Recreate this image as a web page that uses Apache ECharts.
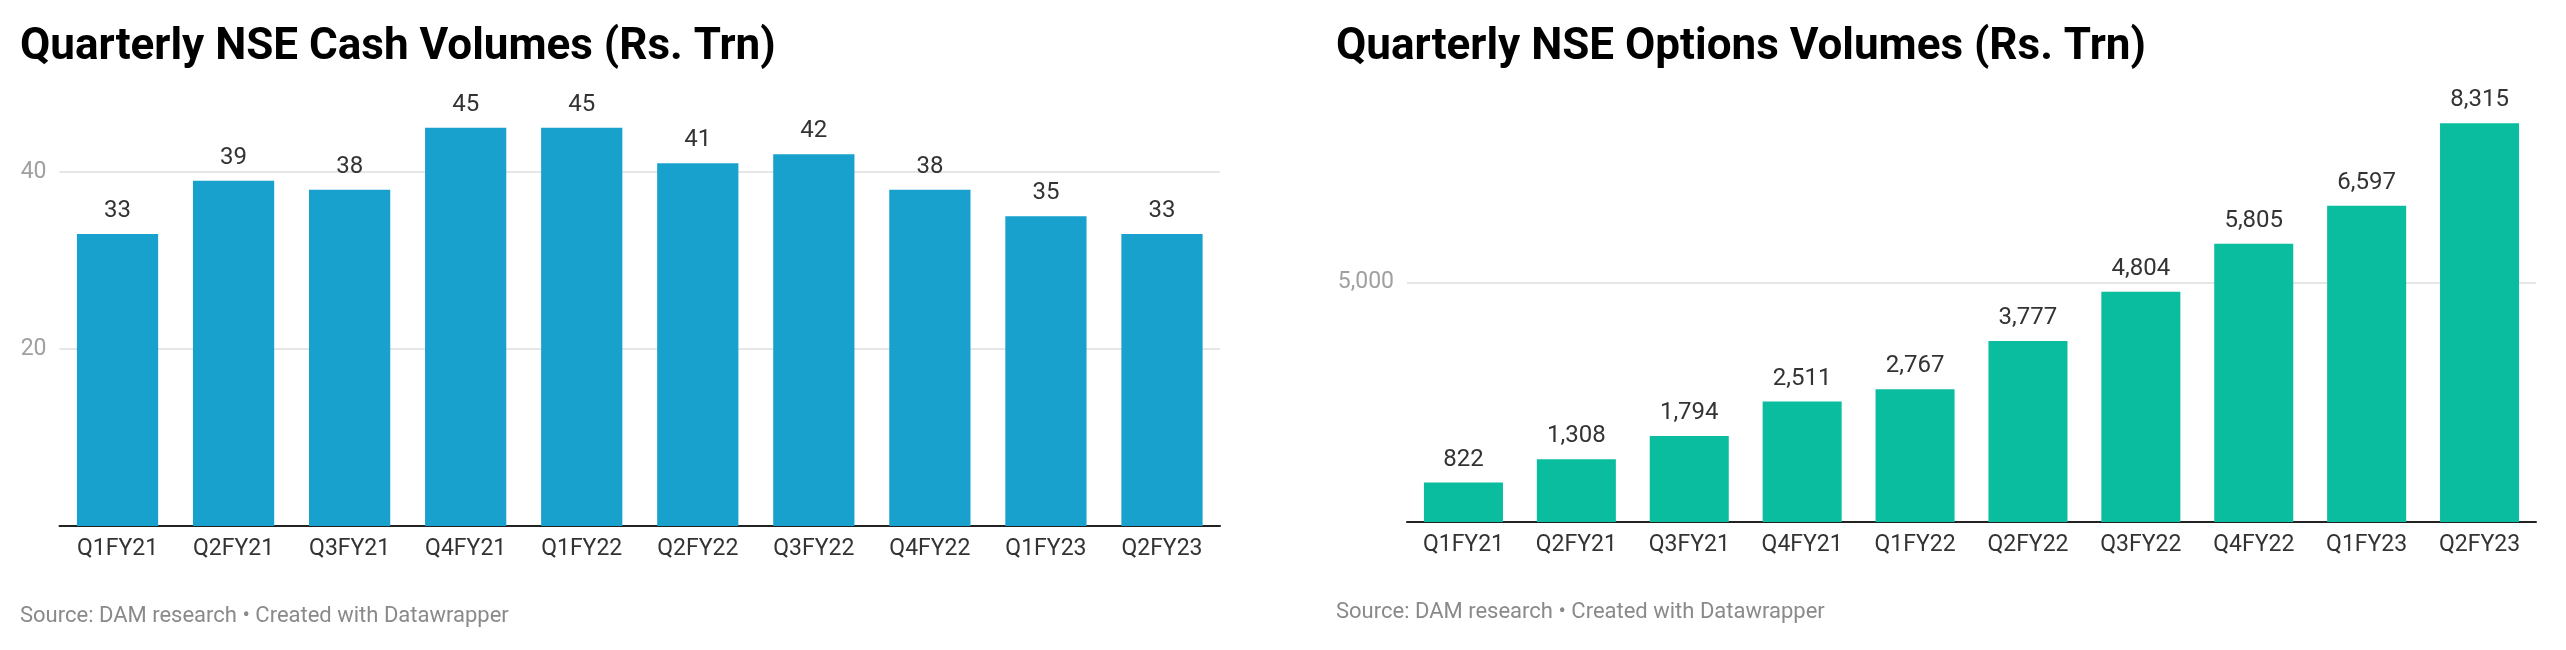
<!DOCTYPE html>
<html>
<head>
<meta charset="utf-8">
<style>
html,body{margin:0;padding:0;background:#fff;}
#chart{width:2566px;height:650px;}
</style>
<script src="https://cdn.jsdelivr.net/npm/echarts@6/dist/echarts.min.js"></script>
</head>
<body>
<div id="chart"></div>
<script>
const categories = ['Q1FY21','Q2FY21','Q3FY21','Q4FY21','Q1FY22','Q2FY22','Q3FY22','Q4FY22','Q1FY23','Q2FY23'];
const cashValues = [33, 39, 38, 45, 45, 41, 42, 38, 35, 33];
const optionsValues = [822, 1308, 1794, 2511, 2767, 3777, 4804, 5805, 6597, 8315];
const cashTitle = 'Quarterly NSE Cash Volumes (Rs. Trn)';
const optionsTitle = 'Quarterly NSE Options Volumes (Rs. Trn)';
const sourceText = 'Source: DAM research • Created with Datawrapper';

const FONT = 'Roboto';
const fmt = v => Number(v).toLocaleString('en-US');

const chart = echarts.init(document.getElementById('chart'), null, {renderer: 'canvas'});

function xAxisCfg(gridIndex) {
  return {
    type: 'category', gridIndex, data: categories,
    axisTick: {show: false},
    axisLine: {show: true, lineStyle: {color: '#222', width: 2}},
    axisLabel: {color: '#333', fontFamily: FONT, fontSize: 23, margin: 12}
  };
}
function yAxisCfg(gridIndex, max, interval) {
  return {
    type: 'value', gridIndex, min: 0, max, interval,
    axisLine: {show: false}, axisTick: {show: false},
    splitLine: {show: true, showMinLine: false, showMaxLine: false, lineStyle: {color: '#e6e6e6', width: 2}},
    axisLabel: {color: '#a0a0a0', fontFamily: FONT, fontSize: 23, margin: 13,
      showMinLabel: false, showMaxLabel: false, formatter: v => fmt(v)}
  };
}

chart.setOption({
  animation: false,
  title: [
    {text: cashTitle, left: 20, top: 26, padding: 0,
     textStyle: {fontFamily: FONT, fontSize: 44, fontWeight: 'bold', color: '#000'}},
    {text: optionsTitle, left: 1336, top: 26, padding: 0,
     textStyle: {fontFamily: FONT, fontSize: 44, fontWeight: 'bold', color: '#000'}},
    {text: sourceText, left: 20, top: 605, padding: 0,
     textStyle: {fontFamily: FONT, fontSize: 22, fontWeight: 'normal', color: '#8a8a8a'}},
    {text: sourceText, left: 1336, top: 601, padding: 0,
     textStyle: {fontFamily: FONT, fontSize: 22, fontWeight: 'normal', color: '#8a8a8a'}}
  ],
  grid: [
    {left: 59.5, top: 83.5, width: 1160.5, height: 442.5, containLabel: false},
    {left: 1407, top: 90.5, width: 1129, height: 431.5, containLabel: false}
  ],
  xAxis: [xAxisCfg(0), xAxisCfg(1)],
  yAxis: [yAxisCfg(0, 50, 20), yAxisCfg(1, 9000, 5000)],
  series: [
    {type: 'bar', xAxisIndex: 0, yAxisIndex: 0, data: cashValues, barCategoryGap: '30%',
     itemStyle: {color: '#18a1cd'},
     label: {show: true, position: 'top', distance: 11, color: '#333', fontFamily: FONT, fontSize: 24, formatter: p => fmt(p.value)}},
    {type: 'bar', xAxisIndex: 1, yAxisIndex: 1, data: optionsValues, barCategoryGap: '30%',
     itemStyle: {color: '#0abd9f'},
     label: {show: true, position: 'top', distance: 11, color: '#333', fontFamily: FONT, fontSize: 24, formatter: p => fmt(p.value)}}
  ]
});
</script>
</body>
</html>
